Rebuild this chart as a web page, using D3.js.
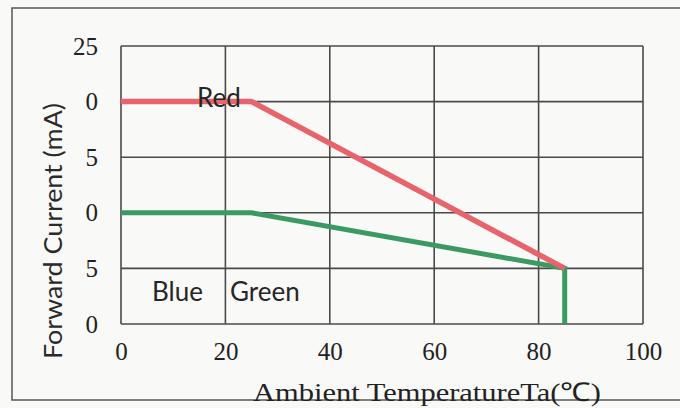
<!DOCTYPE html>
<html>
<head>
<meta charset="utf-8">
<script src="https://cdn.jsdelivr.net/npm/d3@7"></script>
<style>
  html, body { margin: 0; padding: 0; background: #f9f9f8; }
  svg { display: block; }
</style>
</head>
<body>
<div id="chart"></div>
<script>
// values
var xTicks = [0, 20, 40, 60, 80, 100];
var yTicks = [0, 5, 10, 15, 20, 25];
var yTickLabels = ["0", "5", "0", "5", "0", "25"]; // as printed (leading digits lost in scan)

var redTemp = [0, 25, 85];
var redCurrent = [20, 20, 5];

var greenTemp = [0, 25, 85, 85];
var greenCurrent = [10, 10, 5, 0];

function drawChart(chartarea) {
	var width = 680, height = 408;
	var plot = {left: 121, right: 643, top: 46, bottom: 324};

	var svg = d3.select(chartarea)
		.append("svg")
			.attr("width", width)
			.attr("height", height);

	// outer frame of the scanned figure
	svg.append("rect")
		.attr("x", 12)
		.attr("y", 8)
		.attr("width", 700)
		.attr("height", 392)
		.attr("fill", "none")
		.attr("stroke", "#555")
		.attr("stroke-width", 1.5);

	var x = d3.scaleLinear()
		.domain([0, 100])
		.range([plot.left, plot.right]);

	var y = d3.scaleLinear()
		.domain([0, 25])
		.range([plot.bottom, plot.top]);

	// grid
	var grid = svg.append("g").attr("class", "grid");
	grid.selectAll("line.v")
		.data(xTicks)
		.enter().append("line")
		.attr("class", "v")
		.attr("x1", function(d){ return x(d) })
		.attr("x2", function(d){ return x(d) })
		.attr("y1", y(0))
		.attr("y2", y(25))
		.attr("stroke", "#4a4a4a")
		.attr("stroke-width", 1.6);

	grid.selectAll("line.h")
		.data(yTicks)
		.enter().append("line")
		.attr("class", "h")
		.attr("x1", x(0))
		.attr("x2", x(100))
		.attr("y1", function(d){ return y(d) })
		.attr("y2", function(d){ return y(d) })
		.attr("stroke", "#4a4a4a")
		.attr("stroke-width", 1.6);

	// axes (labels only, lines come from the grid)
	var xAxisCall = d3.axisBottom(x)
		.tickValues(xTicks)
		.tickSize(0)
		.tickPadding(18);
	var xAxis = svg.append("g")
		.attr("transform", "translate(0," + plot.bottom + ")")
		.call(xAxisCall);
	xAxis.select(".domain").remove();
	xAxis.selectAll("text")
		.attr("font-family", "'Liberation Serif', serif")
		.attr("font-size", "25px")
		.attr("fill", "#222");

	var yAxisCall = d3.axisLeft(y)
		.tickValues(yTicks)
		.tickSize(0)
		.tickPadding(23)
		.tickFormat(function(d, i){ return yTickLabels[i] });
	var yAxis = svg.append("g")
		.attr("transform", "translate(" + plot.left + ",0)")
		.call(yAxisCall);
	yAxis.select(".domain").remove();
	yAxis.selectAll("text")
		.attr("font-family", "'Liberation Serif', serif")
		.attr("font-size", "25px")
		.attr("fill", "#222");

	// curves
	var line = d3.line()
		.x(function(d){ return x(d[0]) })
		.y(function(d){ return y(d[1]) });

	var greenData = d3.zip(greenTemp, greenCurrent);
	var redData = d3.zip(redTemp, redCurrent);

	svg.append("path")
		.datum(greenData)
		.attr("d", line)
		.attr("fill", "none")
		.attr("stroke", "#3b9a62")
		.attr("stroke-width", 5)
		.attr("stroke-linejoin", "miter");

	svg.append("path")
		.datum(redData)
		.attr("d", line)
		.attr("fill", "none")
		.attr("stroke", "#e8646c")
		.attr("stroke-width", 5.5)
		.attr("stroke-linejoin", "miter");

	// curve labels
	var labelFont = "Lato, 'Open Sans', sans-serif";
	var labels = [
		{text: "Red", x: 197, y: 107},
		{text: "Blue", x: 152, y: 301},
		{text: "Green", x: 230, y: 301}
	];
	svg.selectAll("text.curve-label")
		.data(labels)
		.enter().append("text")
		.attr("class", "curve-label")
		.attr("x", function(d){ return d.x })
		.attr("y", function(d){ return d.y })
		.attr("font-family", labelFont)
		.attr("font-size", "26px")
		.attr("fill", "#262626")
		.text(function(d){ return d.text });

	// axis titles
	svg.append("text")
		.attr("transform", "translate(62,359) rotate(-90)")
		.attr("font-family", labelFont)
		.attr("font-size", "25px")
		.attr("fill", "#2a2a2a")
		.attr("textLength", 256)
		.attr("lengthAdjust", "spacingAndGlyphs")
		.text("Forward Current (mA)");

	svg.append("text")
		.attr("x", 253)
		.attr("y", 401)
		.attr("font-family", "'Liberation Serif', serif")
		.attr("font-size", "26px")
		.attr("fill", "#222")
		.attr("textLength", 348)
		.attr("lengthAdjust", "spacingAndGlyphs")
		.text("Ambient TemperatureTa(\u2103)");
}

drawChart("#chart");
</script>
</body>
</html>
